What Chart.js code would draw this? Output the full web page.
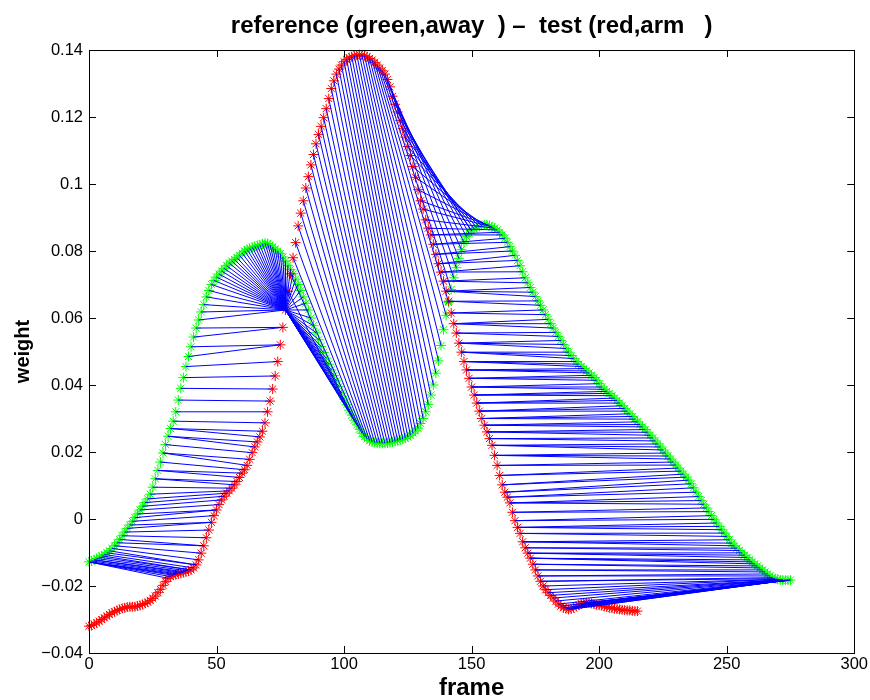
<!DOCTYPE html>
<html lang="en">
<head>
  <meta charset="UTF-8" />
  <title>reference vs test</title>
  <script src="https://cdn.jsdelivr.net/npm/chart.js"></script>
  <style>
    body { margin: 0; background: #fff; }
    #chart { display: block; }
  </style>
</head>
<body>
  <canvas id="chart" width="870" height="700"></canvas>

  <script>
    const titleText = 'reference (green,away  ) \u2013  test (red,arm   )';
    const xLabel = 'frame';
    const yLabel = 'weight';

    const xTicks = [0, 50, 100, 150, 200, 250, 300];
    const yTicks = [-0.04, -0.02, 0, 0.02, 0.04, 0.06, 0.08, 0.1, 0.12, 0.14];
    const yTickLabels = ['\u22120.04', '\u22120.02', '0', '0.02', '0.04', '0.06', '0.08', '0.1', '0.12', '0.14'];

    // reference curve (green), one value per frame 0..275
    const refWeight = [
      -0.0128, -0.0125, -0.0122, -0.0118, -0.0114, -0.0110, -0.0106, -0.0101, -0.0095, -0.0088,
      -0.0080, -0.0071, -0.0061, -0.0050, -0.0039, -0.0028, -0.0018, -0.0007, 0.0004, 0.0015,
      0.0027, 0.0038, 0.0049, 0.0060, 0.0074, 0.0095, 0.0120, 0.0145, 0.0170, 0.0197,
      0.0222, 0.0247, 0.0270, 0.0292, 0.0320, 0.0355, 0.0390, 0.0422, 0.0455, 0.0485,
      0.0514, 0.0543, 0.0570, 0.0594, 0.0618, 0.0640, 0.0663, 0.0682, 0.0700, 0.0712,
      0.0722, 0.0731, 0.0740, 0.0748, 0.0756, 0.0764, 0.0770, 0.0775, 0.0780, 0.0787,
      0.0794, 0.0800, 0.0804, 0.0808, 0.0811, 0.0814, 0.0816, 0.0818, 0.0821, 0.0823,
      0.0822, 0.0818, 0.0812, 0.0806, 0.0800, 0.0792, 0.0782, 0.0770, 0.0757, 0.0745,
      0.0732, 0.0716, 0.0700, 0.0682, 0.0663, 0.0644, 0.0624, 0.0600, 0.0577, 0.0556,
      0.0535, 0.0515, 0.0497, 0.0480, 0.0462, 0.0445, 0.0428, 0.0412, 0.0395, 0.0376,
      0.0358, 0.0341, 0.0325, 0.0310, 0.0295, 0.0281, 0.0268, 0.0256, 0.0246, 0.0239,
      0.0234, 0.0230, 0.0228, 0.0227, 0.0226, 0.0226, 0.0226, 0.0227, 0.0228, 0.0230,
      0.0232, 0.0234, 0.0236, 0.0238, 0.0241, 0.0245, 0.0250, 0.0256, 0.0263, 0.0271,
      0.0285, 0.0300, 0.0320, 0.0342, 0.0370, 0.0400, 0.0435, 0.0472, 0.0518, 0.0565,
      0.0608, 0.0646, 0.0685, 0.0720, 0.0750, 0.0778, 0.0804, 0.0826, 0.0843, 0.0853,
      0.0860, 0.0866, 0.0870, 0.0873, 0.0876, 0.0878, 0.0878, 0.0876, 0.0872, 0.0868,
      0.0863, 0.0856, 0.0848, 0.0838, 0.0826, 0.0813, 0.0800, 0.0787, 0.0772, 0.0756,
      0.0738, 0.0720, 0.0705, 0.0691, 0.0677, 0.0664, 0.0651, 0.0638, 0.0624, 0.0610,
      0.0596, 0.0583, 0.0570, 0.0557, 0.0545, 0.0533, 0.0521, 0.0509, 0.0498, 0.0488,
      0.0479, 0.0470, 0.0462, 0.0455, 0.0449, 0.0442, 0.0436, 0.0429, 0.0422, 0.0414,
      0.0404, 0.0394, 0.0387, 0.0381, 0.0375, 0.0368, 0.0361, 0.0354, 0.0346, 0.0338,
      0.0330, 0.0322, 0.0314, 0.0306, 0.0298, 0.0290, 0.0282, 0.0275, 0.0267, 0.0259,
      0.0250, 0.0242, 0.0233, 0.0224, 0.0215, 0.0206, 0.0197, 0.0188, 0.0179, 0.0170,
      0.0161, 0.0152, 0.0143, 0.0134, 0.0125, 0.0116, 0.0105, 0.0093, 0.0080, 0.0067,
      0.0055, 0.0044, 0.0033, 0.0022, 0.0010, -0.0001, -0.0012, -0.0022, -0.0032, -0.0042,
      -0.0052, -0.0062, -0.0072, -0.0080, -0.0087, -0.0094, -0.0101, -0.0108, -0.0115, -0.0122,
      -0.0128, -0.0134, -0.0140, -0.0146, -0.0152, -0.0158, -0.0164, -0.0170, -0.0175, -0.0178,
      -0.0180, -0.0182, -0.0182, -0.0183, -0.0183, -0.0182
    ];

    // test curve (red), one value per frame 0..215
    const testWeight = [
      -0.0320, -0.0318, -0.0314, -0.0310, -0.0305, -0.0300, -0.0295, -0.0290, -0.0285, -0.0280,
      -0.0277, -0.0273, -0.0270, -0.0267, -0.0265, -0.0263, -0.0262, -0.0262, -0.0262, -0.0260,
      -0.0258, -0.0255, -0.0252, -0.0248, -0.0243, -0.0237, -0.0230, -0.0220, -0.0210, -0.0198,
      -0.0187, -0.0177, -0.0172, -0.0168, -0.0166, -0.0164, -0.0162, -0.0160, -0.0158, -0.0155,
      -0.0152, -0.0146, -0.0137, -0.0122, -0.0102, -0.0080, -0.0056, -0.0033, -0.0010, 0.0010,
      0.0027, 0.0043, 0.0057, 0.0068, 0.0077, 0.0084, 0.0092, 0.0102, 0.0112, 0.0124,
      0.0137, 0.0147, 0.0160, 0.0178, 0.0198, 0.0215, 0.0230, 0.0245, 0.0262, 0.0287,
      0.0320, 0.0352, 0.0388, 0.0427, 0.0470, 0.0520, 0.0572, 0.0624, 0.0680, 0.0732,
      0.0780, 0.0825, 0.0875, 0.0913, 0.0950, 0.0988, 0.1022, 0.1057, 0.1088, 0.1120,
      0.1148, 0.1172, 0.1198, 0.1225, 0.1255, 0.1285, 0.1308, 0.1328, 0.1343, 0.1355,
      0.1365, 0.1372, 0.1377, 0.1380, 0.1383, 0.1385, 0.1386, 0.1385, 0.1383, 0.1380,
      0.1375, 0.1370, 0.1363, 0.1355, 0.1346, 0.1338, 0.1328, 0.1312, 0.1290, 0.1262,
      0.1238, 0.1215, 0.1190, 0.1165, 0.1140, 0.1112, 0.1085, 0.1052, 0.1020, 0.0983,
      0.0950, 0.0925, 0.0893, 0.0868, 0.0848, 0.0820, 0.0790, 0.0762, 0.0737, 0.0710,
      0.0680, 0.0650, 0.0615, 0.0583, 0.0555, 0.0525, 0.0498, 0.0470, 0.0445, 0.0420,
      0.0394, 0.0370, 0.0346, 0.0322, 0.0300, 0.0280, 0.0260, 0.0240, 0.0220, 0.0190,
      0.0160, 0.0130, 0.0102, 0.0080, 0.0065, 0.0048, 0.0020, -0.0005, -0.0025, -0.0043,
      -0.0068, -0.0086, -0.0102, -0.0117, -0.0135, -0.0152, -0.0170, -0.0186, -0.0200, -0.0211,
      -0.0220, -0.0228, -0.0236, -0.0245, -0.0254, -0.0260, -0.0265, -0.0268, -0.0270, -0.0269,
      -0.0265, -0.0261, -0.0257, -0.0254, -0.0251, -0.0250, -0.0250, -0.0252, -0.0254, -0.0256,
      -0.0257, -0.0259, -0.0261, -0.0263, -0.0265, -0.0266, -0.0268, -0.0269, -0.0270, -0.0271,
      -0.0272, -0.0273, -0.0273, -0.0274, -0.0275, -0.0275
    ];

    // corners of the warping path: reference frame <-> test frame
    const pathRef  = [0, 0, 3, 5, 9, 14, 20, 25, 28, 30, 33, 37, 39, 42, 43, 105, 108, 109, 140, 160, 168, 174, 186, 201, 216, 230, 240, 252, 265, 270, 275];
    const pathTest = [31, 35, 39, 40, 43, 47, 51, 56, 61, 64, 69, 73, 75, 76, 77, 77, 80, 81, 112, 133, 137, 140, 145, 150, 155, 160, 165, 170, 175, 178, 196];

    const FONT = '"Liberation Sans", Arial, Helvetica, sans-serif';

    // walk the path one step at a time between corners
    const pairs = [[pathRef[0], pathTest[0]]];
    for (let k = 1; k < pathRef.length; k++) {
      const g0 = pathRef[k - 1], r0 = pathTest[k - 1];
      const dg = pathRef[k] - g0, dr = pathTest[k] - r0;
      const steps = Math.max(dg, dr);
      for (let s = 1; s <= steps; s++) {
        pairs.push([g0 + Math.round(s * dg / steps), r0 + Math.round(s * dr / steps)]);
      }
    }

    const linkData = [];
    pairs.forEach(([g, r]) => {
      linkData.push({ x: g, y: refWeight[g] });
      linkData.push({ x: r, y: testWeight[r] });
      linkData.push({ x: null, y: null });
    });

    const refPoints = refWeight.map((v, i) => ({ x: i, y: v }));
    const testPoints = testWeight.map((v, i) => ({ x: i, y: v }));

    // MATLAB-style box with inward ticks, plus the title
    const matlabAxes = {
      id: 'matlabAxes',
      afterDatasetsDraw(chart) {
        const { ctx, chartArea: a, scales: { x, y } } = chart;
        const len = 7;
        ctx.save();
        ctx.strokeStyle = '#000';
        ctx.lineWidth = 1;
        ctx.beginPath();
        xTicks.forEach(v => {
          const px = Math.round(x.getPixelForValue(v)) + 0.5;
          ctx.moveTo(px, a.bottom); ctx.lineTo(px, a.bottom - len);
          ctx.moveTo(px, a.top); ctx.lineTo(px, a.top + len);
        });
        yTicks.forEach(v => {
          const py = Math.round(y.getPixelForValue(v)) + 0.5;
          ctx.moveTo(a.left, py); ctx.lineTo(a.left + len, py);
          ctx.moveTo(a.right, py); ctx.lineTo(a.right - len, py);
        });
        ctx.stroke();
        ctx.strokeRect(Math.round(a.left) + 0.5, Math.round(a.top) + 0.5, Math.round(a.width), Math.round(a.height));
        ctx.fillStyle = '#000';
        ctx.font = 'bold 24px ' + FONT;
        ctx.textAlign = 'center';
        ctx.textBaseline = 'middle';
        ctx.fillText(titleText, (a.left + a.right) / 2, 26);
        ctx.restore();
      }
    };

    const ctx = document.getElementById('chart').getContext('2d');
    new Chart(ctx, {
      type: 'scatter',
      data: {
        datasets: [
          {
            type: 'line',
            label: 'match',
            data: linkData,
            borderColor: '#0000ff',
            borderWidth: 1,
            pointRadius: 0,
            spanGaps: false,
            tension: 0,
            fill: false,
            order: 0
          },
          {
            label: 'test',
            data: testPoints,
            pointStyle: 'star',
            pointRadius: 5,
            pointBorderWidth: 1,
            borderColor: '#ff0000',
            backgroundColor: '#ff0000',
            clip: false,
            order: 1
          },
          {
            label: 'reference',
            data: refPoints,
            pointStyle: 'star',
            pointRadius: 5,
            pointBorderWidth: 1,
            borderColor: '#00ff00',
            backgroundColor: '#00ff00',
            clip: false,
            order: 2
          }
        ]
      },
      options: {
        responsive: false,
        animation: false,
        devicePixelRatio: 1,
        events: [],
        layout: { padding: { top: 50, right: 15, left: 0, bottom: 0 } },
        plugins: {
          legend: { display: false },
          tooltip: { enabled: false }
        },
        scales: {
          x: {
            type: 'linear',
            min: 0,
            max: 300,
            afterBuildTicks: s => { s.ticks = xTicks.map(v => ({ value: v })); },
            afterFit: s => { s.height = 47; },
            grid: { display: false, drawTicks: false },
            border: { display: false },
            ticks: {
              color: '#000',
              padding: 2,
              maxRotation: 0,
              font: { family: FONT, size: 16.5 },
              callback: v => String(v)
            },
            title: {
              display: true,
              text: xLabel,
              color: '#000',
              padding: { top: 0, bottom: 0 },
              font: { family: FONT, size: 24, weight: 'bold', lineHeight: 1 }
            }
          },
          y: {
            type: 'linear',
            min: -0.04,
            max: 0.14,
            afterBuildTicks: s => { s.ticks = yTicks.map(v => ({ value: v })); },
            afterFit: s => { s.width = 89; },
            grid: { display: false, drawTicks: false },
            border: { display: false },
            ticks: {
              color: '#000',
              padding: 6,
              font: { family: FONT, size: 16.5 },
              callback: (v, i) => yTickLabels[i]
            },
            title: {
              display: true,
              text: yLabel,
              color: '#000',
              padding: { top: 11, bottom: 0 },
              font: { family: FONT, size: 20, weight: 'bold' }
            }
          }
        }
      },
      plugins: [matlabAxes]
    });
  </script>
</body>
</html>
